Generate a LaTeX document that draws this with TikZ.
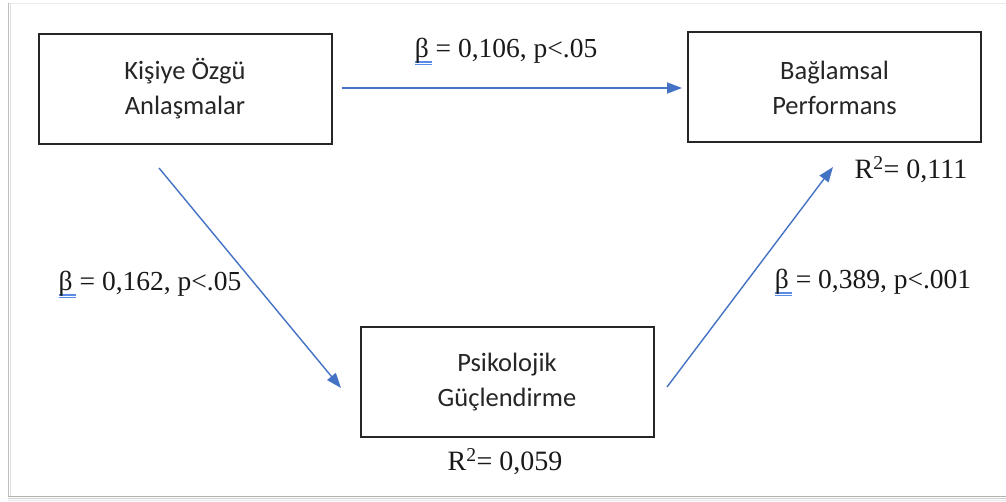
\documentclass[tikz,border=0pt]{standalone}
\usepackage{fontspec}
\setmainfont{Liberation Serif}
\newfontfamily\boxfont{Carlito}
\usetikzlibrary{arrows.meta}
\definecolor{arrowblue}{RGB}{68,114,196}
\definecolor{ublue}{RGB}{90,140,230}
\newcommand{\ulbeta}{\leavevmode\rlap{\color{ublue}\rule[-0.27em]{0.62em}{0.05em}}\rlap{\color{ublue}\rule[-0.17em]{0.62em}{0.05em}}β}
\tikzset{
  varbox/.style={draw=black!85, line width=2pt, inner sep=0pt, minimum width=293pt, minimum height=110pt,
    align=center, font=\boxfont\fontsize{26.5}{35}\selectfont, text=black!85},
  pathlabel/.style={inner sep=0pt, font=\fontsize{27.5}{30}\selectfont, text=black!90},
  rlabel/.style={inner sep=0pt, font=\fontsize{28}{30}\selectfont, text=black!90},
  link/.style={draw=arrowblue, line width=1.4pt, -{Triangle[length=15pt,width=11pt]}}
}
\begin{document}
\begin{tikzpicture}[x=1pt,y=-1pt]
\useasboundingbox (0,0) rectangle (1006,502);
% frame with shadow
\fill[white] (8,3) rectangle (1006,497);
\draw[black!8, line width=1pt] (8,3.5) -- (1006,3.5);
\draw[black!25, line width=1pt] (8.5,3) -- (8.5,497);
\draw[black!12, line width=1.5pt] (10.5,3) -- (10.5,497);
\draw[black!30, line width=1pt] (8,496.5) -- (1006,496.5);
\draw[black!18, line width=1.5pt] (8,498.5) -- (1006,498.5);
\draw[black!8, line width=1.5pt] (8,500.5) -- (1006,500.5);
% boxes
\node[varbox] (ka) at (185,89) {Kişiye Özgü\\Anlaşmalar};
\node[varbox] (bp) at (834.5,87.5) {Bağlamsal\\Performans};
\node[varbox] (pg) at (507,382) {Psikolojik\\Güçlendirme};
% R squared
\node[rlabel] (r1) at (911,170) {R\textsuperscript{2}= 0,111};
\node[rlabel] (r2) at (505,462) {R\textsuperscript{2}= 0,059};
% connector ends
\coordinate (c1s) at (159,168);
\coordinate (c1e) at (341,388);
\coordinate (c2s) at (667,387);
\coordinate (c2e) at (833,167);
\draw[link, shorten <=9pt, shorten >=5pt] (ka.east |- 0,88) -- (bp.west |- 0,88);
\draw[link] (c1s) -- (c1e);
\draw[link] (c2s) -- (c2e);
% path labels
\node[pathlabel] (l1) at (506,52) {\ulbeta{} = 0,106, p<.05};
\node[pathlabel] (l2) at (150,285) {\ulbeta{} = 0,162, p<.05};
\node[pathlabel] (l3) at (873,283) {\ulbeta{} = 0,389, p<.001};
\end{tikzpicture}
\end{document}
